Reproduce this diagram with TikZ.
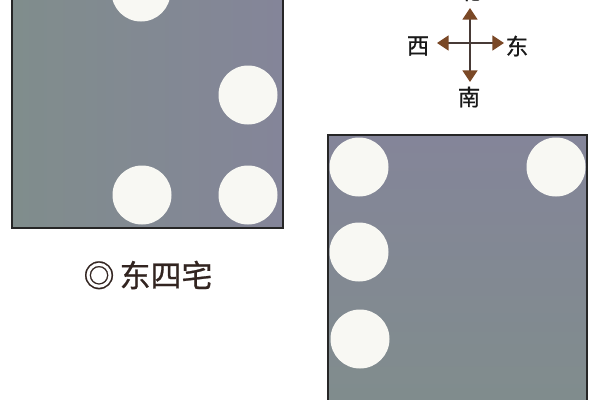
\documentclass[tikz,border=0pt]{standalone}
\usepackage{fontspec}
\newfontfamily\cjk[FakeBold=0.7]{Noto Sans CJK SC}
\usetikzlibrary{arrows.meta}
\definecolor{slateblue}{RGB}{132,133,153}
\definecolor{slategreen}{RGB}{128,141,140}
\definecolor{dotwhite}{RGB}{248,248,243}
\definecolor{arrowbrown}{RGB}{122,72,38}
\definecolor{inkbrown}{RGB}{50,36,32}

\begin{document}
\begin{tikzpicture}[x=0.05cm, y=-0.05cm,
  board/.style={draw=black!85, line width=1.6pt},
  dot/.style={fill=dotwhite},
  compass/.style={draw=inkbrown!90, line width=1.8pt, -{Triangle[length=0.58cm, width=0.75cm, color=arrowbrown, fill=arrowbrown]}},
  dirlabel/.style={inner sep=0, text=black!90, font=\cjk\fontsize{32}{32}\selectfont},
  caption/.style={inner sep=0, text=inkbrown, font=\cjk\fontsize{44}{44}\selectfont}]
\clip (0,0) rectangle (600,400);
\fill[white] (0,0) rectangle (600,400);

% left board
\shade[left color=slategreen, right color=slateblue] (12,-20) rectangle (283,228);
\draw[board] (12,-20) rectangle (283,228);
\foreach \x/\y in {141/-8, 248/95, 142/195, 248/195} \fill[dot] (\x,\y) circle (29.5);

% right board
\shade[top color=slateblue, bottom color=slategreen] (328,135) rectangle (587,420);
\draw[board] (328,135) rectangle (587,420);
\foreach \x/\y in {359/167, 556/167, 359/252, 360/339} \fill[dot] (\x,\y) circle (29.5);

% compass
\coordinate (c) at (470,43);
\coordinate (tipN) at (470,8);
\coordinate (tipS) at (470,82);
\coordinate (tipW) at (437,43);
\coordinate (tipE) at (504,43);
\foreach \t in {tipN, tipS, tipW, tipE} \draw[compass] (c) -- (\t);
\node[dirlabel] (bei) at (470,-9) {北};
\node[dirlabel] (nan) at (469,97) {南};
\node[dirlabel] (xi) at (418,46) {西};
\node[dirlabel] (dong) at (517,46) {东};

\node[caption] (dongsi) at (148,275) {◎\,东四宅};
\end{tikzpicture}
\end{document}
